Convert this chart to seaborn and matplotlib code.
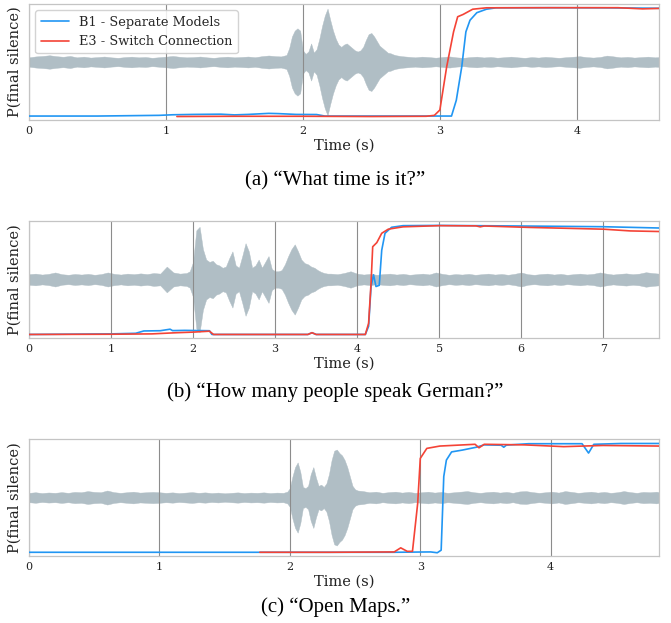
import matplotlib
matplotlib.use("Agg")
import matplotlib.pyplot as plt
import seaborn as sns

# ----------------------------
# Dados (probabilidade e envelope do áudio)
# ----------------------------
# (a) "What time is it?"
a_b1_t = [0, 0.5, 0.95, 1.05, 1.2, 1.4, 1.5, 1.6, 1.75, 1.82, 1.95, 2.1, 2.16, 2.5, 3.0,
          3.085, 3.12, 3.16, 3.19, 3.22, 3.27, 3.34, 3.41, 3.8, 4.2, 4.6]
a_b1_p = [0.034, 0.034, 0.040, 0.045, 0.048, 0.050, 0.044, 0.048, 0.057, 0.055, 0.048, 0.047,
          0.034, 0.034, 0.034, 0.034, 0.17, 0.46, 0.76, 0.86, 0.925, 0.955, 0.967, 0.968, 0.967, 0.963]
a_e3_t = [1.08, 1.5, 2.0, 2.5, 2.9, 2.96, 3.0, 3.05, 3.10, 3.13, 3.17, 3.24, 3.34, 3.8, 4.3, 4.48, 4.6]
a_e3_p = [0.030, 0.032, 0.032, 0.030, 0.032, 0.040, 0.086, 0.46, 0.76, 0.89, 0.91, 0.955, 0.967,
          0.968, 0.968, 0.958, 0.962]
a_wave_t = [0.00, 0.05, 0.10, 0.15, 0.20, 0.25, 0.30, 0.35, 0.40, 0.45, 0.50, 0.55, 0.60, 0.65,
            0.70, 0.75, 0.80, 0.85, 0.90, 0.95, 1.00, 1.05, 1.10, 1.15, 1.20, 1.25, 1.30, 1.35,
            1.40, 1.45, 1.50, 1.55, 1.60, 1.65, 1.70, 1.75, 1.80, 1.84,
            1.88, 1.90, 1.92, 1.94, 1.96, 1.98, 2.00, 2.02, 2.04, 2.06, 2.08, 2.10, 2.12, 2.14,
            2.16, 2.18, 2.20, 2.22, 2.24, 2.26, 2.28, 2.30, 2.32, 2.34, 2.36, 2.38, 2.40, 2.42,
            2.44, 2.46, 2.48, 2.50, 2.52, 2.54, 2.56, 2.58, 2.60, 2.62, 2.64, 2.66, 2.68,
            2.72, 2.77, 2.82, 2.87, 2.92, 2.97, 3.02, 3.07, 3.12, 3.17, 3.22, 3.27, 3.32, 3.37,
            3.42, 3.47, 3.52, 3.57, 3.62, 3.67, 3.72, 3.77, 3.82, 3.87, 3.92, 3.97, 4.02, 4.07,
            4.12, 4.17, 4.22, 4.27, 4.32, 4.37, 4.42, 4.47, 4.52, 4.57, 4.60]
a_wave_amp = [0.040, 0.048, 0.052, 0.058, 0.050, 0.045, 0.052, 0.040, 0.046, 0.038, 0.042, 0.047,
              0.040, 0.036, 0.042, 0.046, 0.040, 0.043, 0.036, 0.041, 0.046, 0.052, 0.045, 0.040,
              0.042, 0.047, 0.040, 0.036, 0.042, 0.046, 0.040, 0.043, 0.047, 0.041, 0.050, 0.056,
              0.050, 0.048,
              0.060, 0.12, 0.22, 0.27, 0.29, 0.27, 0.10, 0.07, 0.09, 0.16, 0.08, 0.11, 0.20, 0.31,
              0.40, 0.46, 0.36, 0.27, 0.20, 0.15, 0.13, 0.15, 0.16, 0.14, 0.12, 0.10, 0.09, 0.10,
              0.13, 0.19, 0.24, 0.25, 0.22, 0.18, 0.14, 0.12, 0.10, 0.08, 0.075, 0.065, 0.058,
              0.050, 0.045, 0.040, 0.046, 0.042, 0.037, 0.043, 0.048, 0.040, 0.036, 0.042, 0.046,
              0.039, 0.043, 0.037, 0.041, 0.046, 0.040, 0.036, 0.042, 0.038, 0.044, 0.040, 0.036,
              0.041, 0.045, 0.050, 0.042, 0.038, 0.043, 0.055, 0.048, 0.040, 0.044, 0.038, 0.042,
              0.046, 0.040, 0.042]

# (b) "How many people speak German?"
b_b1_t = [0, 1.0, 1.3, 1.4, 1.6, 1.72, 1.75, 1.9, 2.2, 2.23, 3.0, 3.4, 3.45, 3.5, 4.10, 4.14,
          4.17, 4.20, 4.23, 4.27, 4.30, 4.34, 4.42, 4.56, 5.0, 6.0, 7.0, 7.68]
b_b1_p = [0.03, 0.035, 0.04, 0.06, 0.062, 0.075, 0.063, 0.065, 0.062, 0.03, 0.03, 0.03, 0.045,
          0.03, 0.03, 0.10, 0.44, 0.54, 0.44, 0.45, 0.75, 0.895, 0.946, 0.96, 0.962, 0.957,
          0.951, 0.94]
b_e3_t = [0, 1.0, 1.5, 1.8, 2.0, 2.2, 2.25, 3.0, 3.4, 3.45, 3.5, 4.10, 4.14, 4.17, 4.19, 4.24,
          4.30, 4.38, 4.56, 5.0, 5.45, 5.5, 5.55, 6.1, 7.0, 7.33, 7.68]
b_e3_p = [0.03, 0.032, 0.035, 0.045, 0.05, 0.058, 0.03, 0.03, 0.03, 0.045, 0.03, 0.03, 0.125,
          0.47, 0.78, 0.815, 0.895, 0.93, 0.95, 0.96, 0.958, 0.95, 0.957, 0.945, 0.93, 0.915, 0.91]
b_wave_t = [0.00, 0.08, 0.16, 0.24, 0.32, 0.40, 0.48, 0.56, 0.64, 0.72, 0.80, 0.88, 0.96, 1.04,
            1.12, 1.20, 1.28, 1.36, 1.44, 1.52, 1.60, 1.68, 1.76, 1.84, 1.92,
            1.96, 2.00, 2.04, 2.08, 2.12, 2.16, 2.20, 2.24, 2.28, 2.32, 2.36, 2.40, 2.44, 2.48,
            2.52, 2.56, 2.60, 2.64, 2.68, 2.72, 2.76, 2.80, 2.84, 2.88, 2.92, 2.96, 3.00, 3.04,
            3.08, 3.12, 3.16, 3.20, 3.24, 3.28, 3.32, 3.36, 3.40, 3.44, 3.48, 3.52, 3.56, 3.60,
            3.64,
            3.68, 3.76, 3.84, 3.92, 4.00, 4.08, 4.16, 4.24, 4.32, 4.40, 4.48, 4.56, 4.64, 4.72,
            4.80, 4.88, 4.96, 5.04, 5.12, 5.20, 5.28, 5.36, 5.44, 5.52, 5.60, 5.68, 5.76, 5.84,
            5.92, 6.00, 6.08, 6.16, 6.24, 6.32, 6.40, 6.48, 6.56, 6.64, 6.72, 6.80, 6.88, 6.96,
            7.04, 7.12, 7.20, 7.28, 7.36, 7.44, 7.52, 7.60, 7.68]
b_wave_amp = [0.045, 0.050, 0.042, 0.048, 0.060, 0.045, 0.040, 0.047, 0.042, 0.048, 0.040, 0.046,
              0.060, 0.048, 0.042, 0.050, 0.045, 0.052, 0.046, 0.055, 0.050, 0.11, 0.060, 0.050,
              0.055,
              0.07, 0.15, 0.42, 0.45, 0.26, 0.17, 0.15, 0.16, 0.13, 0.12, 0.10, 0.11, 0.18, 0.24,
              0.12, 0.10, 0.20, 0.31, 0.24, 0.10, 0.12, 0.17, 0.10, 0.15, 0.20, 0.09, 0.07, 0.07,
              0.08, 0.13, 0.20, 0.26, 0.30, 0.24, 0.17, 0.14, 0.13, 0.11, 0.10, 0.08, 0.065, 0.055,
              0.05,
              0.050, 0.045, 0.055, 0.070, 0.050, 0.042, 0.048, 0.040, 0.046, 0.050, 0.042, 0.048,
              0.040, 0.045, 0.050, 0.043, 0.060, 0.048, 0.040, 0.046, 0.042, 0.048, 0.040, 0.045,
              0.050, 0.042, 0.047, 0.040, 0.048, 0.060, 0.045, 0.040, 0.046, 0.050, 0.042, 0.048,
              0.040, 0.045, 0.050, 0.043, 0.048, 0.060, 0.050, 0.042, 0.048, 0.052, 0.045, 0.050,
              0.062, 0.055, 0.050]

# (c) "Open Maps."
c_b1_t = [0, 1.0, 2.0, 2.8, 3.08, 3.13, 3.16, 3.18, 3.20, 3.24, 3.32, 3.43, 3.49, 3.62, 3.64,
          3.66, 3.83, 4.24, 4.29, 4.33, 4.54, 4.83]
c_b1_p = [0.032, 0.032, 0.032, 0.032, 0.035, 0.028, 0.05, 0.68, 0.82, 0.89, 0.905, 0.93, 0.95,
          0.947, 0.93, 0.948, 0.96, 0.96, 0.88, 0.955, 0.962, 0.962]
c_e3_t = [1.77, 2.3, 2.8, 2.85, 2.9, 2.94, 2.98, 3.0, 3.05, 3.15, 3.42, 3.45, 3.49, 3.8, 4.1, 4.4, 4.83]
c_e3_p = [0.032, 0.032, 0.035, 0.07, 0.04, 0.04, 0.45, 0.835, 0.92, 0.94, 0.955, 0.925, 0.955,
          0.95, 0.935, 0.945, 0.94]
c_wave_t = [0.00, 0.05, 0.10, 0.15, 0.20, 0.25, 0.30, 0.35, 0.40, 0.45, 0.50, 0.55, 0.60, 0.65,
            0.70, 0.75, 0.80, 0.85, 0.90, 0.95, 1.00, 1.05, 1.10, 1.15, 1.20, 1.25, 1.30, 1.35,
            1.40, 1.45, 1.50, 1.55, 1.60, 1.65, 1.70, 1.75, 1.80, 1.85, 1.90, 1.95,
            1.98, 2.00, 2.02, 2.04, 2.06, 2.08, 2.10, 2.12, 2.14, 2.16, 2.18, 2.20, 2.22, 2.24,
            2.26, 2.28, 2.30, 2.32, 2.34, 2.36, 2.38, 2.40, 2.42, 2.44, 2.46, 2.48, 2.50, 2.52,
            2.56, 2.61, 2.66, 2.71, 2.76, 2.81, 2.86, 2.91, 2.96, 3.01, 3.06, 3.11, 3.16, 3.21,
            3.26, 3.31, 3.36, 3.41, 3.46, 3.51, 3.56, 3.61, 3.66, 3.71, 3.76, 3.81, 3.86, 3.91,
            3.96, 4.01, 4.06, 4.11, 4.16, 4.21, 4.26, 4.31, 4.36, 4.41, 4.46, 4.51, 4.56, 4.61,
            4.66, 4.71, 4.76, 4.81, 4.83]
c_wave_amp = [0.040, 0.045, 0.038, 0.043, 0.040, 0.046, 0.040, 0.048, 0.045, 0.055, 0.048, 0.045,
              0.060, 0.046, 0.040, 0.045, 0.050, 0.042, 0.045, 0.048, 0.045, 0.040, 0.044, 0.038,
              0.042, 0.046, 0.040, 0.044, 0.038, 0.042, 0.036, 0.040, 0.044, 0.038, 0.042, 0.040,
              0.044, 0.038, 0.042, 0.040,
              0.05, 0.08, 0.18, 0.26, 0.30, 0.22, 0.09, 0.08, 0.10, 0.20, 0.26, 0.17, 0.10, 0.11,
              0.09, 0.12, 0.20, 0.32, 0.40, 0.41, 0.38, 0.36, 0.32, 0.26, 0.18, 0.10, 0.07, 0.06,
              0.055, 0.045, 0.050, 0.040, 0.046, 0.050, 0.042, 0.048, 0.040, 0.045, 0.050, 0.042,
              0.048, 0.040, 0.045, 0.050, 0.055, 0.045, 0.040, 0.046, 0.050, 0.042, 0.048, 0.040,
              0.052, 0.055, 0.046, 0.040, 0.045, 0.050, 0.042, 0.055, 0.048, 0.040, 0.045, 0.050,
              0.042, 0.048, 0.040, 0.045, 0.055, 0.046, 0.040, 0.048, 0.045, 0.050, 0.045]

x_max = [4.6, 7.68, 4.83]
captions = ["(a) \u201cWhat time is it?\u201d",
            "(b) \u201cHow many people speak German?\u201d",
            "(c) \u201cOpen Maps.\u201d"]
series_names = ["B1 - Separate Models", "E3 - Switch Connection"]

# ----------------------------
# Estilo
# ----------------------------
sns.set_theme(style="whitegrid")
plt.rcParams["font.family"] = "serif"
plt.rcParams["font.serif"] = ["DejaVu Serif"]

blue = "#2196F3"
red = "#F44336"
wave_color = "#B0BEC5"

fig = plt.figure(figsize=(6.71, 6.23), dpi=100)

rects = [[0.0432, 0.8074, 0.9389, 0.1862],
         [0.0432, 0.4575, 0.9389, 0.1878],
         [0.0432, 0.1075, 0.9389, 0.1878]]
caption_y = [0.7095, 0.3708, 0.0257]

panels = [
    (a_wave_t, a_wave_amp, a_b1_t, a_b1_p, a_e3_t, a_e3_p),
    (b_wave_t, b_wave_amp, b_b1_t, b_b1_p, b_e3_t, b_e3_p),
    (c_wave_t, c_wave_amp, c_b1_t, c_b1_p, c_e3_t, c_e3_p),
]

for i, (wt, wa, bt, bp, et, ep) in enumerate(panels):
    ax = fig.add_axes(rects[i])
    # envelope do áudio centrado em 0.5
    lower = [0.5 - a for a in wa]
    upper = [0.5 + a for a in wa]
    ax.fill_between(wt, lower, upper, color=wave_color, linewidth=0.3, edgecolor=wave_color, zorder=1)

    sns.lineplot(x=bt, y=bp, ax=ax, color=blue, linewidth=1.2,
                 label=series_names[0] if i == 0 else None, zorder=3)
    sns.lineplot(x=et, y=ep, ax=ax, color=red, linewidth=1.2,
                 label=series_names[1] if i == 0 else None, zorder=3)

    ax.set_xlim(0, x_max[i])
    ax.set_ylim(0, 1)
    ax.set_yticks([])
    ax.set_xticks(range(0, int(x_max[i]) + 1))
    ax.set_axisbelow("line")
    ax.grid(axis="x", color="#8c8c8c", linewidth=0.8)
    ax.grid(axis="y", visible=False)
    ax.tick_params(axis="x", labelsize=8, pad=4, length=0, colors="#222222")
    for sp in ax.spines.values():
        sp.set_color("#c4c4c4")
        sp.set_linewidth(0.9)
    ax.set_xlabel("Time (s)", fontsize=10.5, labelpad=2, color="#222222")
    ax.set_ylabel("P(final silence)", fontsize=10.5, labelpad=5, color="#222222")

    if i == 0:
        ax.legend(loc="upper left", fontsize=9.3, frameon=True, framealpha=0.85,
                  handlelength=2.2, borderaxespad=0.5)

    fig.text(0.5, caption_y[i], captions[i], ha="center", va="center",
             fontsize=15, family="Liberation Serif", color="black")

fig.savefig("out.png", dpi=100)
